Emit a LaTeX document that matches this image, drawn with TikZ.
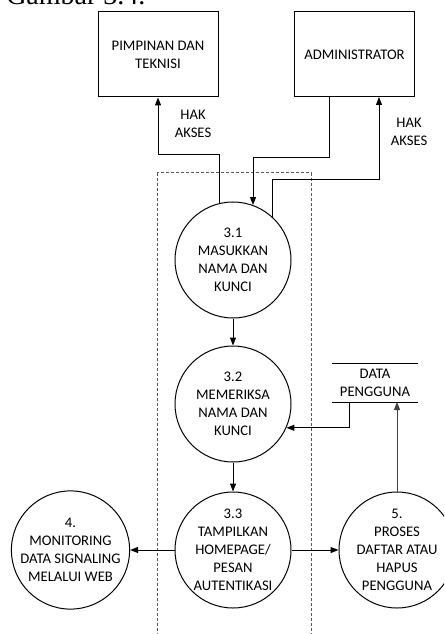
\documentclass[tikz,border=0pt]{standalone}
\usepackage{fontspec}
\setmainfont{Carlito}
\newfontfamily\titlefont{Liberation Serif}
\usetikzlibrary{arrows.meta}
\begin{document}
\begin{tikzpicture}[x=0.75pt,y=-0.75pt,
  txt/.style={font=\fontsize{11}{13.5}\selectfont},
  proc/.style={circle,draw,line width=0.75pt,minimum size=87pt,inner sep=0pt,align=center,txt},
  ent/.style={rectangle,draw,line width=0.75pt,minimum width=90pt,minimum height=63.75pt,inner sep=0pt,align=center,txt},
  lbl/.style={align=center,inner sep=0pt,txt},
  flow/.style={draw,line width=0.75pt,-{Triangle[length=6pt,width=4.5pt]}},
  bound/.style={draw=black!65,line width=0.75pt,dash pattern=on 2.25pt off 1.5pt}]
\clip (0,0) rectangle (444,634);
\node[anchor=base west,inner sep=0pt,font=\titlefont\fontsize{21}{25}\selectfont] (title) at (6,4.3) {Gambar 3.4.};
% external entities
\node[ent] (box1) at (158,54.5) {PIMPINAN DAN\\TEKNISI};
\node[ent] (box2) at (354.5,54.5) {ADMINISTRATOR};
% boundary
\draw[bound] (157,173) rectangle (311,640);
% processes
\node[proc] (c31) at (233,260) {3.1\\MASUKKAN\\NAMA DAN\\KUNCI};
\node[proc] (c32) at (233,404) {3.2\\MEMERIKSA\\NAMA DAN\\KUNCI};
\node[proc] (c33) at (233,550) {3.3\\TAMPILKAN\\HOMEPAGE/\\PESAN\\AUTENTIKASI};
\node[proc] (c4) at (70.5,550) {4.\\MONITORING\\DATA SIGNALING\\MELALUI WEB};
\node[proc] (c5) at (397,550) {5.\\PROSES\\DAFTAR ATAU\\HAPUS\\PENGGUNA};
% data store
\node[lbl] (store) at (375,382.5) {DATA\\PENGGUNA};
\coordinate (stTL) at (332,363);
\coordinate (stTR) at (418,363);
\coordinate (stBL) at (332,402);
\coordinate (stBR) at (418,402);
\draw[line width=0.75pt] (stTL) -- (stTR);
\draw[line width=0.75pt] (stBL) -- (stBR);
% labels
\node[lbl] (hak1) at (193,123.5) {HAK\\AKSES};
\node[lbl] (hak2) at (409,131.5) {HAK\\AKSES};
% flows
\coordinate (b2a) at (329,97);
\coordinate (b2b) at (379,97);
\coordinate (s1) at (349,402);
\draw[flow] (c31.103.5) |- (box1.south |- 0,155) -- (box1.south);
\draw[flow] (b2a) |- (c31.70.4 |- 0,158) -- (c31.70.4);
\draw[flow] (c31.48.4) |- (b2b |- 0,180) -- (b2b);
\draw[flow] (c31) -- (c32);
\draw[flow] (c32) -- (c33);
\draw[flow] (s1) |- (c32.-24.4);
\draw[flow,draw=black!75] (c5.north) -- (c5.north |- s1);
\draw[flow] (c33) -- (c4);
\draw[flow] (c33) -- (c5);
\end{tikzpicture}
\end{document}
